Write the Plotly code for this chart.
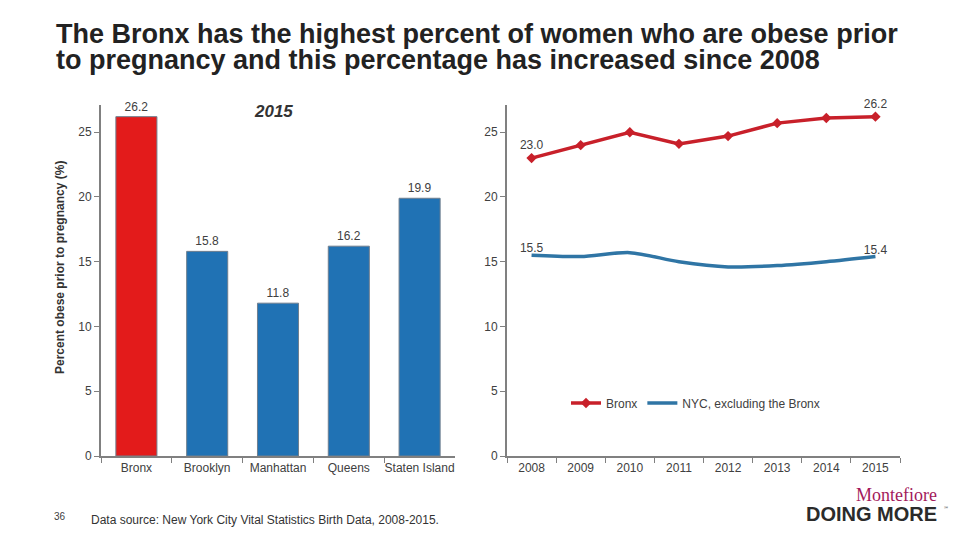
import plotly.graph_objects as go

boroughs = ["Bronx", "Brooklyn", "Manhattan", "Queens", "Staten Island"]
pct_2015 = [26.2, 15.8, 11.8, 16.2, 19.9]

years = ["2008", "2009", "2010", "2011", "2012", "2013", "2014", "2015"]
bronx = [23.0, 24.0, 25.0, 24.1, 24.7, 25.7, 26.1, 26.2]
nyc_excl = [15.5, 15.4, 15.7, 15.0, 14.6, 14.7, 15.0, 15.4]

W, H = 960, 540
def px(x):
    return x / W
def py(y):
    return (H - y) / H

TICK = "#404040"
AXIS = "#808080"
FONT = "Liberation Sans, Arial, sans-serif"

bar_colors = ["#e31b1b"] + ["#2072b4"] * 4

fig = go.Figure()
fig.add_trace(go.Bar(
    x=boroughs, y=pct_2015, width=0.58,
    marker=dict(color=bar_colors, line=dict(color="#6f7f8f", width=1)),
    text=[f"{v:.1f}" for v in pct_2015], textposition="outside",
    textfont=dict(size=12, color=TICK, family=FONT),
    cliponaxis=False, showlegend=False, xaxis="x", yaxis="y",
))

def edge_labels(vals):
    return [f"{v:.1f}" if i in (0, len(vals) - 1) else "" for i, v in enumerate(vals)]

fig.add_trace(go.Scatter(
    x=years, y=bronx, name="Bronx", mode="lines+markers+text",
    line=dict(color="#c8202a", width=3.5),
    marker=dict(symbol="diamond", size=8, color="#c8202a"),
    text=edge_labels(bronx), textposition="top center",
    textfont=dict(size=12, color=TICK, family=FONT),
    cliponaxis=False, xaxis="x2", yaxis="y2",
))
fig.add_trace(go.Scatter(
    x=years, y=nyc_excl, name="NYC, excluding the Bronx", mode="lines+text",
    line=dict(color="#2f75a5", width=3.5, shape="spline", smoothing=0.8),
    text=edge_labels(nyc_excl), textposition="top center",
    textfont=dict(size=12, color=TICK, family=FONT),
    cliponaxis=False, xaxis="x2", yaxis="y2",
))

y_dom = [py(456), py(105)]
yrange = [0, 27.1]
common_y = dict(range=yrange, tickvals=[0, 5, 10, 15, 20, 25], showgrid=False, zeroline=False,
                showline=True, linecolor=AXIS, linewidth=2, ticks="outside", ticklen=5,
                tickcolor=AXIS, tickfont=dict(size=12, color=TICK, family=FONT), domain=y_dom,
                automargin=False)
common_x = dict(showgrid=False, zeroline=False, showline=True, linecolor=AXIS, linewidth=2,
                ticks="outside", ticklen=5, tickcolor=AXIS, tickson="boundaries", tickangle=0,
                tickfont=dict(size=12, color=TICK, family=FONT), type="category",
                automargin=False)

fig.update_layout(
    width=W, height=H, margin=dict(l=0, r=0, t=0, b=0, autoexpand=False),
    paper_bgcolor="white", plot_bgcolor="white",
    font=dict(family=FONT, color=TICK),
    xaxis=dict(domain=[px(101), px(455)], anchor="y", **common_x),
    yaxis=dict(anchor="x", **common_y),
    xaxis2=dict(domain=[px(507), px(900)], anchor="y2", range=[-0.5, 7.5], **common_x),
    yaxis2=dict(anchor="x2", **common_y),
    legend=dict(orientation="h", x=px(566), y=py(403), xanchor="left", yanchor="middle",
                font=dict(size=12, color=TICK, family=FONT), bgcolor="rgba(0,0,0,0)",
                itemwidth=30),
    bargap=0.42,
)

anns = [
    dict(text="<b>The Bronx has the highest percent of women who are obese prior</b>", x=px(54), y=py(34),
         font=dict(size=27, color="#222222", family=FONT), xanchor="left", yanchor="middle"),
    dict(text="<b>to pregnancy and this percentage has increased since 2008</b>", x=px(54), y=py(60),
         font=dict(size=27, color="#222222", family=FONT), xanchor="left", yanchor="middle"),
    dict(text="<b><i>2015</i></b>", x=px(273), y=py(111), font=dict(size=17, color="#333333", family=FONT),
         xanchor="center", yanchor="middle"),
    dict(text="<b>Percent obese prior to pregnancy (%)</b>", x=px(60), y=py(268), textangle=-90,
         font=dict(size=12, color="#333333", family=FONT), xanchor="center", yanchor="middle"),
    dict(text="36", x=px(60), y=py(516), font=dict(size=10, color=TICK, family=FONT),
         xanchor="center", yanchor="middle"),
    dict(text="Data source: New York City Vital Statistics Birth Data, 2008-2015.", x=px(89), y=py(520),
         font=dict(size=12, color="#333333", family=FONT), xanchor="left", yanchor="middle"),
    dict(text="Montefiore", x=px(939), y=py(495), font=dict(size=18, color="#a3195b", family="Liberation Serif, serif"),
         xanchor="right", yanchor="middle", height=16),
    dict(text="<b>DOING MORE</b>", x=px(939), y=py(513), font=dict(size=20, color="#2b2b2b", family=FONT),
         xanchor="right", yanchor="middle", height=17),
    dict(text="℠", x=px(942), y=py(508), font=dict(size=5, color="#555555", family=FONT),
         xanchor="left", yanchor="middle"),
]
for a in anns:
    a.update(xref="paper", yref="paper", showarrow=False)
fig.update_layout(annotations=anns)

fig.write_html("out.html", config={"displayModeBar": False},
               post_script="document.body.style.margin='0';document.body.style.overflow='hidden';")
